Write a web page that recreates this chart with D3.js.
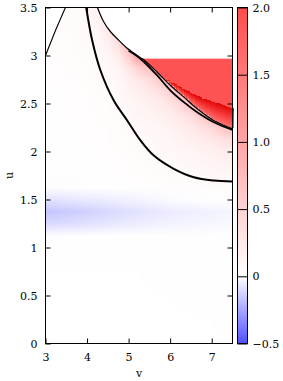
<!DOCTYPE html>
<html>
<head>
<meta charset="utf-8">
<script src="https://cdnjs.cloudflare.com/ajax/libs/d3/7.8.5/d3.min.js"></script>
<style>
  body { margin: 0; background: #fff; }
  svg text { font-family: "DejaVu Serif", serif; font-size: 11px; fill: #000; }
</style>
</head>
<body>
<svg id="chart" width="283" height="381"></svg>
<script>
// grid nodes of the colour field (v across, u from top to bottom)
const vNodes = [3, 3.25, 3.5, 3.75, 4, 4.25, 4.5, 4.75, 5, 5.25, 5.5, 5.75, 6, 6.25, 6.5, 6.75, 7, 7.25, 7.5];
const uNodes = [3.5, 3.375, 3.25, 3.125, 3, 2.875, 2.75, 2.625, 2.5, 2.375, 2.25, 2.125, 2, 1.875, 1.75,
  1.625, 1.5, 1.375, 1.25, 1.125, 1, 0.875, 0.75, 0.625, 0.5, 0.375, 0.25, 0.125, 0];

// field values, one row per uNode
const field = [
  [.03, .03, .04, .05, .09, .17, .30, .45, .90, 1.3, 1.3, .80, .80, .80, .80, .80, .80, .80, .80],
  [.03, .03, .04, .05, .07, .12, .30, .45, .90, 1.3, 1.3, .80, .80, .80, .80, .80, .80, .80, .80],
  [.03, .03, .035, .045, .06, .09, .26, .45, .90, 1.3, 1.3, .80, .80, .80, .80, .80, .80, .80, .80],
  [.025, .03, .03, .04, .055, .075, .14, .38, .90, 1.3, 1.3, .80, .80, .80, .80, .80, .80, .80, .80],
  [.025, .025, .03, .035, .048, .062, .10, .20, .58, 1.2, 1.2, .80, .80, .80, .80, .80, .80, .80, .80],
  [.02, .02, .025, .03, .038, .05, .07, .12, .28, .52, .75, .85, .85, .85, .85, .85, .85, .85, .85],
  [.018, .018, .02, .025, .032, .04, .056, .085, .17, .27, .38, .60, .85, .85, .85, .85, .85, .85, .85],
  [.015, .016, .018, .022, .027, .034, .046, .065, .12, .18, .25, .33, .52, .85, .85, .85, .85, .85, .85],
  [.013, .014, .016, .019, .023, .029, .038, .052, .09, .13, .17, .21, .30, .45, .75, .85, .85, .85, .85],
  [.012, .013, .014, .017, .02, .025, .031, .042, .065, .095, .125, .155, .20, .27, .37, .60, .85, .85, .85],
  [.011, .012, .013, .015, .018, .021, .026, .035, .05, .07, .09, .115, .145, .185, .235, .32, .43, .62, .80],
  [.01, .011, .012, .013, .015, .018, .022, .028, .037, .052, .068, .085, .105, .13, .165, .21, .26, .32, .38],
  [.009, .01, .011, .012, .013, .015, .018, .023, .03, .04, .051, .062, .078, .095, .115, .145, .17, .20, .23],
  [.008, .009, .01, .011, .012, .013, .015, .019, .025, .033, .04, .048, .058, .07, .085, .10, .12, .14, .155],
  [.007, .008, .009, .01, .011, .012, .013, .016, .02, .026, .031, .036, .042, .05, .058, .068, .077, .085, .092],
  [-.008, -.006, -.005, -.004, -.002, 0, .001, .004, .008, .013, .016, .02, .024, .029, .033, .038, .044, .048, .052],
  [-.08, -.076, -.072, -.067, -.061, -.056, -.05, -.044, -.037, -.031, -.026, -.02, -.014, -.01, -.006, -.002, .002, .006, .009],
  [-.165, -.158, -.149, -.141, -.131, -.121, -.111, -.10, -.089, -.08, -.072, -.064, -.055, -.05, -.045, -.04, -.036, -.032, -.029],
  [-.106, -.102, -.096, -.091, -.084, -.078, -.071, -.064, -.057, -.051, -.045, -.04, -.035, -.031, -.028, -.025, -.022, -.02, -.018],
  [-.006, -.006, -.005, -.004, -.003, -.002, -.001, 0, .001, .002, .003, .004, .005, .006, .007, .008, .008, .009, .009],
  [.004, .004, .004, .005, .005, .005, .006, .006, .007, .007, .008, .008, .009, .009, .01, .01, .011, .011, .012],
  [.008, .008, .008, .008, .008, .008, .008, .008, .008, .008, .008, .008, .008, .008, .009, .009, .01, .01, .01],
  [.004, .004, .004, .004, .004, .005, .005, .005, .005, .005, .006, .006, .006, .006, .007, .007, .007, .008, .008],
  [.004, .004, .004, .004, .004, .004, .005, .005, .005, .005, .005, .006, .006, .006, .006, .006, .007, .007, .007],
  [.004, .004, .004, .004, .004, .004, .004, .005, .005, .005, .005, .005, .005, .006, .006, .006, .006, .006, .006],
  [.004, .004, .004, .004, .004, .004, .004, .004, .005, .005, .005, .005, .005, .005, .005, .006, .006, .006, .006],
  [.004, .004, .004, .004, .004, .004, .004, .004, .004, .005, .005, .005, .005, .005, .005, .005, .005, .006, .006],
  [.004, .004, .004, .004, .004, .004, .004, .004, .004, .004, .005, .005, .005, .005, .005, .005, .005, .005, .005],
  [.004, .004, .004, .004, .004, .004, .004, .004, .004, .004, .004, .005, .005, .005, .005, .005, .005, .005, .005]
];

// curves (v, u)
const leftEdge = [[3, 3.0], [3.12, 3.13], [3.25, 3.27], [3.37, 3.39], [3.48, 3.5]];
const upperEdge = [[4.25, 3.5], [4.39, 3.36], [4.56, 3.25], [4.76, 3.16], [4.95, 3.08], [5.14, 3.02], [5.29, 2.975],
  [5.365, 2.955], [5.688, 2.826], [6.008, 2.688], [6.33, 2.566], [6.65, 2.445], [7.05, 2.323], [7.5, 2.236]];
const lowerPair = [[5.0, 3.05], [5.2, 2.995], [5.365, 2.935], [5.688, 2.792], [6.008, 2.635], [6.328, 2.514],
  [6.65, 2.409], [7.05, 2.305], [7.5, 2.225]];
const curveC = [[3.979, 3.5], [4.124, 3.156], [4.323, 2.844], [4.643, 2.531], [4.966, 2.323], [5.286, 2.115],
  [5.606, 1.958], [6.087, 1.82], [6.568, 1.732], [7.05, 1.698], [7.5, 1.688]];

// saturated block
const plateauTop = 2.966;
const plateauStart = 5.33;
const plateauValue = 1.92;
const stairEdge = [[5.33, 2.966], [5.45, 2.925], [5.6, 2.865], [5.75, 2.797], [5.85, 2.757], [6.0, 2.72],
  [6.25, 2.66], [6.5, 2.6], [6.75, 2.552], [7.0, 2.516], [7.25, 2.48], [7.5, 2.445]];

const xTicks = [3, 4, 5, 6, 7];
const yTicks = [0, 0.5, 1, 1.5, 2, 2.5, 3, 3.5];
const cbTicks = [-0.5, 0, 0.5, 1, 1.5, 2];

const x = d3.scaleLinear().domain([3, 7.5]).range([45.5, 232.5]);
const y = d3.scaleLinear().domain([0, 3.5]).range([343.5, 7.5]);
const color = d3.scaleLinear().domain([-0.5, 0, 2, 3])
  .range(['#5050ff', '#ffffff', '#ff4c4c', '#e00000']).clamp(true);

const svg = d3.select('#chart');
const defs = svg.append('defs');
const line = d3.line().x(d => x(d[0])).y(d => y(d[1]));
const smooth = d3.line().x(d => x(d[0])).y(d => y(d[1])).curve(d3.curveCatmullRom.alpha(0.5));

// field as a smoothed image
const nV = vNodes.length, nU = uNodes.length;
const small = document.createElement('canvas');
small.width = nV; small.height = nU;
const sctx = small.getContext('2d');
const img = sctx.createImageData(nV, nU);
field.forEach((row, j) => row.forEach((val, i) => {
  const c = d3.rgb(color(val));
  const k = (j * nV + i) * 4;
  img.data[k] = c.r; img.data[k + 1] = c.g; img.data[k + 2] = c.b; img.data[k + 3] = 255;
}));
sctx.putImageData(img, 0, 0);
const big = document.createElement('canvas');
big.width = 283; big.height = 381;
const bctx = big.getContext('2d');
bctx.imageSmoothingEnabled = true;
const dx = x(vNodes[1]) - x(vNodes[0]);
const dy = y(uNodes[1]) - y(uNodes[0]);
bctx.drawImage(small, x(vNodes[0]) - dx / 2, y(uNodes[0]) - dy / 2, dx * nV, dy * nU);

const outline = [[3, 0], ...leftEdge, ...upperEdge.filter(d => d[0] < plateauStart),
  [plateauStart, plateauTop], [7.5, plateauTop], [7.5, 0]];
defs.append('clipPath').attr('id', 'dom').append('path').attr('d', line(outline) + 'Z');

svg.append('image')
  .attr('href', big.toDataURL())
  .attr('width', 283).attr('height', 381)
  .attr('clip-path', 'url(#dom)');

// saturated plateau
const plateau = [[plateauStart, plateauTop], [7.5, plateauTop], ...stairEdge.slice().reverse()];
svg.append('path').attr('d', line(plateau) + 'Z').attr('fill', color(plateauValue));

// deep band between staircase and curve
const bandGrad = defs.append('linearGradient').attr('id', 'bandGrad')
  .attr('x1', 0).attr('y1', 0).attr('x2', 0).attr('y2', 1);
[[0, 2.9], [0.45, 2.3], [1, 1.6]].forEach(s =>
  bandGrad.append('stop').attr('offset', s[0]).attr('stop-color', color(s[1])));
const stairU = d3.scaleLinear().domain(stairEdge.map(d => d[0])).range(stairEdge.map(d => d[1]));
const edgeU = d3.scaleLinear().domain(upperEdge.map(d => d[0])).range(upperEdge.map(d => d[1]));
const step = 0.06;
svg.append('g').attr('shape-rendering', 'crispEdges').selectAll('rect')
  .data(d3.range(5.85, 7.5, step))
  .join('rect')
  .attr('x', v => x(v))
  .attr('width', v => x(Math.min(v + step, 7.5)) - x(v) + 1)
  .attr('y', v => y(stairU(v)))
  .attr('height', v => Math.max(0, y(edgeU(v)) - y(stairU(v))))
  .attr('fill', 'url(#bandGrad)');

// curves
const curves = svg.append('g').attr('fill', 'none');
curves.append('path').attr('d', smooth(leftEdge)).attr('stroke', '#000').attr('stroke-width', 1.1);
curves.append('path').attr('d', smooth(upperEdge)).attr('stroke', '#000').attr('stroke-width', 1.2);
curves.append('path').attr('d', smooth(lowerPair)).attr('stroke', '#000').attr('stroke-width', 1.8);
curves.append('path').attr('d', smooth(curveC)).attr('stroke', '#000').attr('stroke-width', 2);

// frame and axes
svg.append('rect').attr('x', x(3)).attr('y', y(3.5))
  .attr('width', x(7.5) - x(3)).attr('height', y(0) - y(3.5))
  .attr('fill', 'none').attr('stroke', '#000');

const fmt = d => String(d);
const serif = g => g.selectAll('text').attr('fill', '#000')
  .style('font-family', '"DejaVu Serif", serif').style('font-size', '11px');
svg.append('g').attr('transform', `translate(0,${y(0)})`)
  .call(d3.axisBottom(x).tickValues(xTicks).tickFormat(fmt).tickSizeInner(-5).tickSizeOuter(0).tickPadding(10))
  .call(g => g.select('.domain').remove()).call(serif);
svg.append('g').attr('transform', `translate(${x(3)},0)`)
  .call(d3.axisLeft(y).tickValues(yTicks).tickFormat(fmt).tickSizeInner(-5).tickSizeOuter(0).tickPadding(8))
  .call(g => g.select('.domain').remove()).call(serif);
svg.append('g').attr('transform', `translate(0,${y(3.5)})`)
  .call(d3.axisTop(x).tickValues(xTicks.slice(1)).tickFormat('').tickSizeInner(-5).tickSizeOuter(0))
  .call(g => g.select('.domain').remove());
svg.append('g').attr('transform', `translate(${x(7.5)},0)`)
  .call(d3.axisRight(y).tickValues(yTicks.slice(1, -1)).tickFormat('').tickSizeInner(-5).tickSizeOuter(0))
  .call(g => g.select('.domain').remove());

svg.append('text').attr('transform', `translate(13,${y(1.75)}) rotate(-90)`)
  .attr('text-anchor', 'middle').text('u');
svg.append('text').attr('x', (x(3) + x(7.5)) / 2).attr('y', 377)
  .attr('text-anchor', 'middle').text('v');

// colour bar
const cy = d3.scaleLinear().domain([-0.5, 2]).range([343.5, 7.5]);
const cbGrad = defs.append('linearGradient').attr('id', 'cbGrad')
  .attr('x1', 0).attr('y1', 1).attr('x2', 0).attr('y2', 0);
[-0.5, 0, 2].forEach(v => cbGrad.append('stop')
  .attr('offset', (v + 0.5) / 2.5).attr('stop-color', color(v)));
svg.append('rect').attr('x', 237.5).attr('y', cy(2)).attr('width', 10).attr('height', cy(-0.5) - cy(2))
  .attr('fill', 'url(#cbGrad)').attr('stroke', '#000');
svg.append('g').attr('transform', 'translate(247.5,0)')
  .call(d3.axisRight(cy).tickValues(cbTicks).tickFormat(d => d === 0 ? '0' : d3.format('.1f')(d))
    .tickSizeInner(-10).tickSizeOuter(0).tickPadding(5))
  .call(g => g.select('.domain').remove()).call(serif);
</script>
</body>
</html>
